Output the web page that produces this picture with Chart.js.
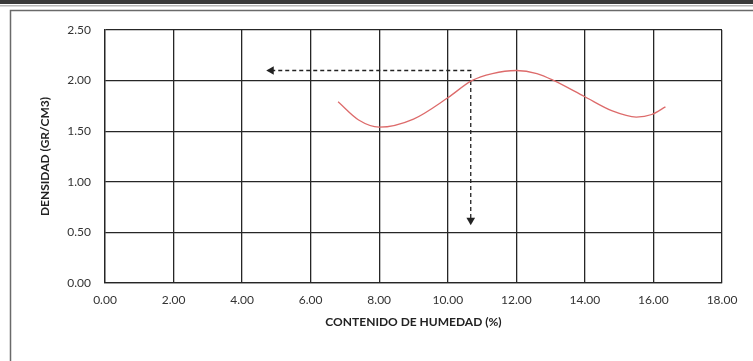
<!DOCTYPE html>
<html>
<head>
<meta charset="utf-8">
<script src="https://cdn.jsdelivr.net/npm/chart.js@4.4.1/dist/chart.umd.min.js"></script>
<style>
    html, body { margin: 0; padding: 0; background: #fff; }
    #wrap { width: 753px; height: 361px; }
</style>
</head>
<body>
<div id="wrap"><canvas id="curva"></canvas></div>
<script>
// curva de compactacion: humedad (%) vs densidad (gr/cm3)
const humedad = [6.8, 7.4, 8.0, 9.0, 10.0, 10.7, 11.3, 12.0, 12.6, 13.1, 14.0, 14.8, 15.5, 15.95, 16.35];
const densidad = [1.79, 1.61, 1.54, 1.62, 1.83, 2.00, 2.07, 2.10, 2.07, 2.00, 1.84, 1.70, 1.64, 1.665, 1.74];

// lectura de la densidad maxima y humedad optima (flechas punteadas)
const lecturaX = [4.85, 10.67, 10.67];
const lecturaY = [2.10, 2.10, 0.62];

const ticksX = [0, 2, 4, 6, 8, 10, 12, 14, 16, 18];
const ticksY = [0, 0.5, 1, 1.5, 2, 2.5];

const colorGrid = '#262626';
const fuente = 'Lato, "Open Sans", sans-serif';

// marco de la hoja y fondo blanco
const marco = {
    id: 'marco',
    beforeDraw(chart) {
        const ctx = chart.ctx;
        ctx.save();
        ctx.fillStyle = '#fff';
        ctx.fillRect(0, 0, chart.width, chart.height);
        ctx.fillStyle = '#3a3a3a';
        ctx.fillRect(0, 0, chart.width, 4);
        ctx.fillStyle = '#b8b8b8';
        ctx.fillRect(0, 5, chart.width, 1.5);
        ctx.strokeStyle = '#6a6a6a';
        ctx.lineWidth = 1.5;
        ctx.beginPath();
        ctx.moveTo(10.5, chart.height);
        ctx.lineTo(10.5, 10.5);
        ctx.lineTo(chart.width, 10.5);
        ctx.stroke();
        ctx.restore();
    }
};

new Chart(document.getElementById('curva'), {
    type: 'scatter',
    data: {
        datasets: [{
            data: humedad.map((h, i) => ({ x: h, y: densidad[i] })),
            showLine: true,
            borderColor: '#dd6b6b',
            borderWidth: 1.3,
            pointRadius: 0,
            cubicInterpolationMode: 'monotone'
        }, {
            data: lecturaX.map((h, i) => ({ x: h, y: lecturaY[i] })),
            showLine: true,
            borderColor: '#222',
            borderWidth: 1.3,
            borderDash: [4, 3],
            backgroundColor: '#222',
            pointStyle: 'triangle',
            pointRadius: [5, 0, 5],
            pointRotation: [-90, 0, 180],
            pointBorderWidth: 0
        }]
    },
    options: {
        responsive: true,
        maintainAspectRatio: false,
        animation: false,
        layout: { padding: { left: 34, right: 31, top: 30, bottom: 28 } },
        plugins: {
            legend: { display: false },
            tooltip: { enabled: false }
        },
        scales: {
            x: {
                type: 'linear',
                min: 0,
                max: 18,
                afterBuildTicks: s => { s.ticks = ticksX.map(v => ({ value: v })); },
                afterFit: s => { s.height = 50; },
                grid: { color: colorGrid, lineWidth: 1.3, drawTicks: false },
                border: { color: colorGrid, width: 1.3 },
                ticks: {
                    padding: 10,
                    color: '#333',
                    font: { family: fuente, size: 12 },
                    callback: v => v.toFixed(2),
                    maxRotation: 0
                },
                title: {
                    display: true,
                    text: 'CONTENIDO DE HUMEDAD (%)',
                    color: '#222',
                    font: { family: fuente, size: 12, weight: 'bold' },
                    padding: { top: 4, bottom: 4 }
                }
            },
            y: {
                min: 0,
                max: 2.5,
                afterBuildTicks: s => { s.ticks = ticksY.map(v => ({ value: v })); },
                afterFit: s => { s.width = 71; },
                grid: { color: colorGrid, lineWidth: 1.3, drawTicks: false },
                border: { color: colorGrid, width: 1.3 },
                ticks: {
                    padding: 14,
                    color: '#333',
                    font: { family: fuente, size: 12 },
                    callback: v => v.toFixed(2)
                },
                title: {
                    display: true,
                    text: 'DENSIDAD (GR/CM3)',
                    color: '#222',
                    font: { family: fuente, size: 12, weight: 'bold' },
                    padding: { top: 4, bottom: 4 }
                }
            }
        }
    },
    plugins: [marco]
});
</script>
</body>
</html>
